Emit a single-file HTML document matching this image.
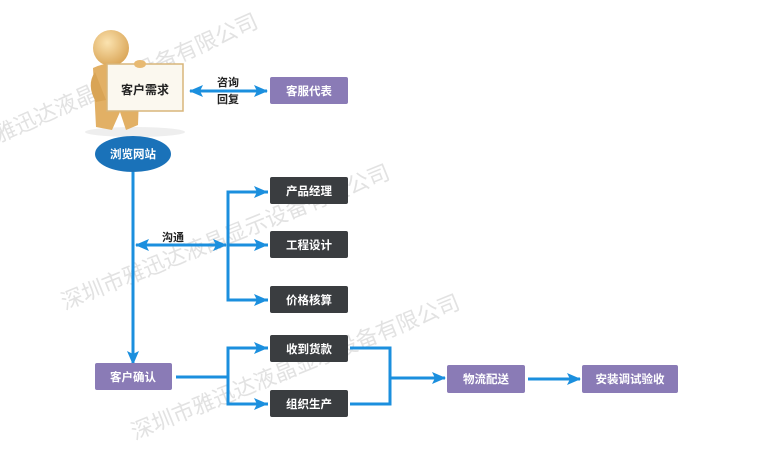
<!DOCTYPE html>
<html><head><meta charset="utf-8"><style>
html,body{margin:0;padding:0;background:#fff;}
svg{display:block;font-family:"Liberation Sans","Noto Sans CJK SC",sans-serif;}
</style></head><body>
<svg width="760" height="450" viewBox="0 0 760 450" xmlns="http://www.w3.org/2000/svg">
<defs>
<marker id="b" viewBox="0 0 14 12" markerWidth="14" markerHeight="12" refX="13" refY="6" orient="auto-start-reverse" markerUnits="userSpaceOnUse"><path d="M0,0 L14,6 L0,12 L3,6 z" fill="#1b8fde"/></marker>
<radialGradient id="hg" cx="0.4" cy="0.35" r="0.7"><stop offset="0" stop-color="#fbe3b0"/><stop offset="1" stop-color="#d9a455"/></radialGradient>
</defs>
<!-- watermarks -->
<g fill="#e2e2e2" font-size="22">
<text transform="translate(-62,170) rotate(-24)">深圳市雅迅达液晶显示设备有限公司</text>
<text transform="translate(65,310) rotate(-22)">深圳市雅迅达液晶显示设备有限公司</text>
<text transform="translate(135,440) rotate(-22)">深圳市雅迅达液晶显示设备有限公司</text>
</g>
<!-- person -->
<ellipse cx="135" cy="132" rx="50" ry="5" fill="#eee"/>
<circle cx="111" cy="48" r="18" fill="url(#hg)"/>
<path d="M93,68 Q110,60 128,66 L140,70 L138,125 L126,130 L120,112 L112,130 L96,127 Z" fill="#e2b065"/>
<path d="M95,72 Q86,85 96,102 L106,100 Z" fill="#d9a455"/>
<rect x="107" y="64" width="76" height="47" fill="#fbf8ef" stroke="#d8b57a" stroke-width="1.5"/>
<ellipse cx="140" cy="64" rx="6" ry="4" fill="#e8ba72"/>
<text x="145" y="94" text-anchor="middle" font-size="12" font-weight="bold" fill="#222">客户需求</text>
<!-- consult arrow -->
<line x1="190" y1="91" x2="267" y2="91" stroke="#1b8fde" stroke-width="3" marker-start="url(#b)" marker-end="url(#b)"/>
<text x="228" y="86" text-anchor="middle" font-size="11" font-weight="bold" fill="#222">咨询</text>
<text x="228" y="103" text-anchor="middle" font-size="11" font-weight="bold" fill="#222">回复</text>
<!-- ellipse -->
<ellipse cx="133" cy="154" rx="38" ry="18" fill="#1a72b9"/>
<text x="133" y="158" text-anchor="middle" font-size="11.5" font-weight="bold" fill="#fff">浏览网站</text>
<!-- lines -->
<g stroke="#1b8fde" stroke-width="3" fill="none">
<line x1="133" y1="172" x2="133" y2="364" marker-end="url(#b)"/>
<line x1="136" y1="245" x2="226" y2="245" marker-start="url(#b)" marker-end="url(#b)"/>
<polyline points="268,192 228,192 228,300 268,300"/>
<line x1="228" y1="245" x2="268" y2="245"/>
<polyline points="176,377 228,377"/>
<polyline points="268,348 228,348 228,404 268,404"/>
<polyline points="350,348 390,348 390,404 350,404"/>
<line x1="390" y1="378" x2="445" y2="378" marker-end="url(#b)"/>
<line x1="528" y1="379" x2="580" y2="379" marker-end="url(#b)"/>
</g>
<g fill="#1b8fde">
<path d="M254,186 L268,192 L254,198 L257,192z"/>
<path d="M254,239 L268,245 L254,251 L257,245z"/>
<path d="M254,294 L268,300 L254,306 L257,300z"/>
<path d="M254,342 L268,348 L254,354 L257,348z"/>
<path d="M254,398 L268,404 L254,410 L257,404z"/>
</g>
<text x="173" y="241" text-anchor="middle" font-size="11" font-weight="bold" fill="#222">沟通</text>
<!-- boxes -->
<g font-size="11.5" font-weight="bold" fill="#fff" text-anchor="middle">
<rect x="270" y="77" width="78" height="27" rx="2" fill="#8a7bb6"/><text x="309" y="95">客服代表</text>
<rect x="270" y="177" width="78" height="27" rx="2" fill="#3a3d40"/><text x="309" y="195">产品经理</text>
<rect x="270" y="231" width="78" height="27" rx="2" fill="#3a3d40"/><text x="309" y="249">工程设计</text>
<rect x="270" y="286" width="78" height="27" rx="2" fill="#3a3d40"/><text x="309" y="304">价格核算</text>
<rect x="270" y="335" width="78" height="27" rx="2" fill="#3a3d40"/><text x="309" y="353">收到货款</text>
<rect x="270" y="390" width="78" height="27" rx="2" fill="#3a3d40"/><text x="309" y="408">组织生产</text>
<rect x="95" y="363" width="77" height="27" rx="2" fill="#8a7bb6"/><text x="133" y="381">客户确认</text>
<rect x="447" y="365" width="78" height="28" rx="2" fill="#8a7bb6"/><text x="486" y="383">物流配送</text>
<rect x="582" y="365" width="96" height="28" rx="2" fill="#8a7bb6"/><text x="630" y="383">安装调试验收</text>
</g>
</svg>
</body></html>
